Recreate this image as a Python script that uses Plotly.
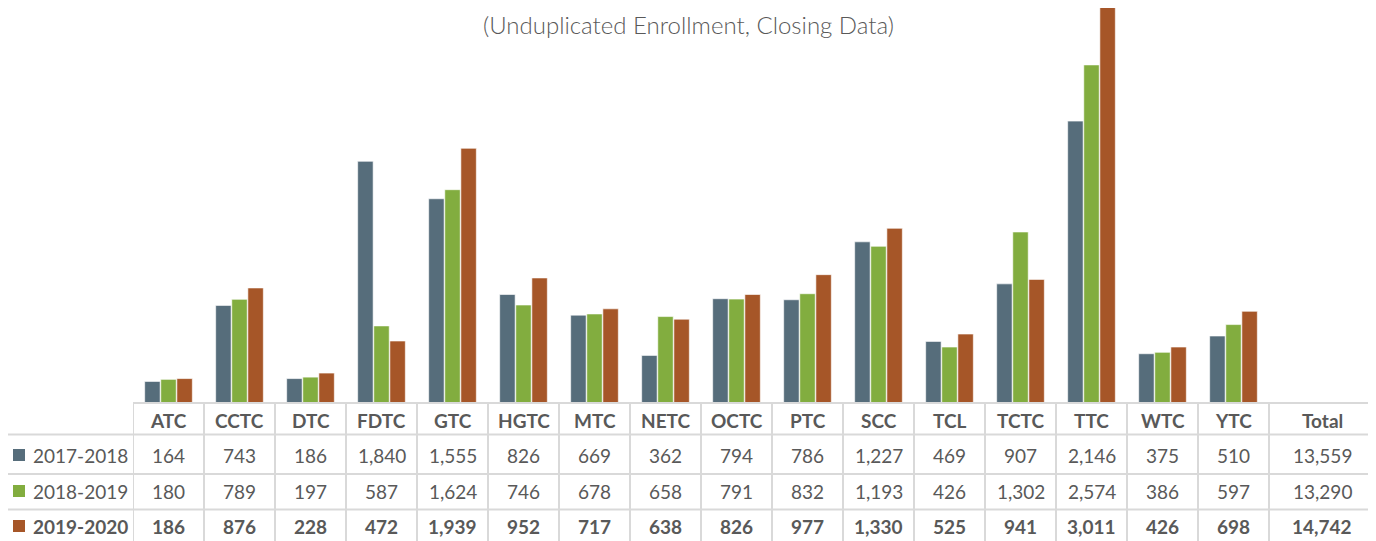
import plotly.graph_objects as go

categories = ["ATC", "CCTC", "DTC", "FDTC", "GTC", "HGTC", "MTC", "NETC", "OCTC",
              "PTC", "SCC", "TCL", "TCTC", "TTC", "WTC", "YTC"]
series_names = ["2017-2018", "2018-2019", "2019-2020"]
v2017 = [164, 743, 186, 1840, 1555, 826, 669, 362, 794, 786, 1227, 469, 907, 2146, 375, 510]
v2018 = [180, 789, 197, 587, 1624, 746, 678, 658, 791, 832, 1193, 426, 1302, 2574, 386, 597]
v2019 = [186, 876, 228, 472, 1939, 952, 717, 638, 826, 977, 1330, 525, 941, 3011, 426, 698]
totals = [13559, 13290, 14742]
total_label = "Total"
subtitle = "(Unduplicated Enrollment, Closing Data)"

colors = ["#566d7b", "#82ad3f", "#a65628"]
series = [v2017, v2018, v2019]
TXT = "#595959"
GRID = "#d9d9d9"
FONT = "Lato"

# page has an 8px body margin; figure sized to fill the rest of the window
OFF = 8
W, H = 1376 - OFF, 541 - OFF


def px_x(p):  # page pixel -> paper x
    return (p - OFF) / W


def px_y(p):  # page pixel -> paper y
    return 1 - (p - OFF) / H


x_left_px, x_right_px = 133, 1375.5
base_px = 403
top_px = OFF
xs = list(range(len(categories)))
total_x = len(categories) + 0.25
x_range = [-0.5, len(categories) + 1.0]
scale = 0.13135  # px per student

fig = go.Figure()
for name, vals, c in zip(series_names, series, colors):
    fig.add_trace(go.Bar(x=xs, y=vals, name=name,
                         marker=dict(color=c, line=dict(color="rgba(255,255,255,0.6)", width=1))))

fig.update_layout(
    width=W, height=H,
    margin=dict(l=0, r=0, t=0, b=0),
    paper_bgcolor="white", plot_bgcolor="white",
    barmode="group", bargap=0.32, bargroupgap=0.04,
    showlegend=False,
    font=dict(family=FONT, color=TXT),
    xaxis=dict(domain=[px_x(x_left_px), min(1, px_x(x_right_px))], range=x_range, visible=False, fixedrange=True),
    yaxis=dict(domain=[px_y(base_px), 1], range=[0, (base_px - top_px) / scale], visible=False, fixedrange=True),
)

shapes = []
right_edge = 1374
shapes.append(dict(type="line", xref="paper", yref="paper", x0=px_x(x_left_px), x1=px_x(right_edge),
                   y0=px_y(base_px), y1=px_y(base_px), line=dict(color=GRID, width=2)))
for ypx in [434.5, 474, 509.5]:
    shapes.append(dict(type="line", xref="paper", yref="paper", x0=0, x1=px_x(right_edge),
                       y0=px_y(ypx), y1=px_y(ypx), line=dict(color=GRID, width=2)))
for k in range(len(categories) + 1):
    shapes.append(dict(type="line", xref="x", yref="paper", x0=k - 0.5, x1=k - 0.5,
                       y0=px_y(base_px), y1=0, line=dict(color=GRID, width=2)))
shapes.append(dict(type="line", xref="paper", yref="paper", x0=px_x(right_edge), x1=px_x(right_edge),
                   y0=px_y(base_px), y1=0, line=dict(color=GRID, width=2)))

row_centers = [455, 491, 526]
header_center = 420
for c, yc in zip(colors, row_centers):
    shapes.append(dict(type="rect", xref="paper", yref="paper", x0=px_x(13), x1=px_x(25),
                       y0=px_y(yc + 6), y1=px_y(yc - 6), fillcolor=c, line=dict(width=0)))

annotations = []
annotations.append(dict(text=subtitle, xref="paper", yref="paper", x=px_x(688), y=px_y(8), showarrow=False,
                        xanchor="center", yanchor="top",
                        font=dict(family=FONT, size=24, color=TXT, weight=300)))
for i, cat in enumerate(categories):
    annotations.append(dict(text=f"<b>{cat}</b>", xref="x", yref="paper", x=i, y=px_y(header_center),
                            showarrow=False, xanchor="center", yanchor="middle",
                            font=dict(family=FONT, size=19, color=TXT)))
annotations.append(dict(text=f"<b>{total_label}</b>", xref="x", yref="paper", x=total_x, y=px_y(header_center),
                        showarrow=False, xanchor="center", yanchor="middle",
                        font=dict(family=FONT, size=19, color=TXT)))
for r, (name, vals, yc) in enumerate(zip(series_names, series, row_centers)):
    bold = r == 2
    fmt = (lambda s: f"<b>{s}</b>") if bold else (lambda s: s)
    annotations.append(dict(text=fmt(name), xref="paper", yref="paper", x=px_x(31), y=px_y(yc), showarrow=False,
                            xanchor="left", yanchor="middle", font=dict(family=FONT, size=19, color=TXT)))
    for i, v in enumerate(vals):
        annotations.append(dict(text=fmt(f"{v:,}"), xref="x", yref="paper", x=i, y=px_y(yc), showarrow=False,
                                xanchor="center", yanchor="middle", font=dict(family=FONT, size=19, color=TXT)))
    annotations.append(dict(text=fmt(f"{totals[r]:,}"), xref="x", yref="paper", x=total_x, y=px_y(yc),
                            showarrow=False, xanchor="center", yanchor="middle",
                            font=dict(family=FONT, size=19, color=TXT)))

fig.update_layout(shapes=shapes, annotations=annotations)
fig.write_html("out.html")
